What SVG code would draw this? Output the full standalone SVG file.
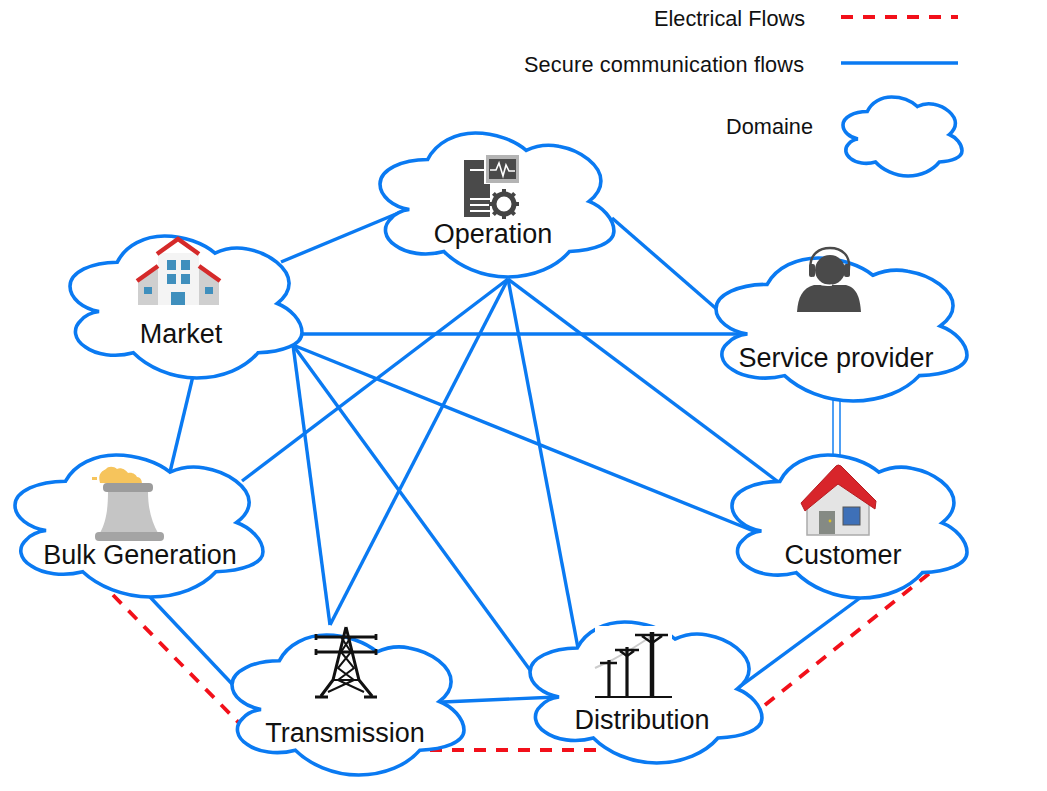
<svg xmlns="http://www.w3.org/2000/svg" xmlns:xlink="http://www.w3.org/1999/xlink" width="1047" height="791" viewBox="0 0 1047 791">
<style>
text{font-family:"Liberation Sans",Arial,sans-serif;fill:#111}
.lbl{font-size:27px;text-anchor:middle}
.leg{font-size:21.7px}
.cl{fill:#fff;stroke:#0a7af2;stroke-width:3.6;vector-effect:non-scaling-stroke;stroke-linejoin:miter}
.blue{stroke:#0a7af2;stroke-width:3.4;fill:none}
.thin{stroke:#4d9ff5;stroke-width:2;fill:none}
.red{stroke:#f2101a;stroke-width:3.8;fill:none;stroke-dasharray:12 10}
.blk{stroke:#111;fill:none}
</style>
<defs>
<path id="cloud" class="cl" d="M44 26C52 9 70 0 88 0C106 0 124 7 135 17C145 12 156 11 165 13C186 17 204 32 204 47C204 55 199 62 193 67C205 72 216 84 216 96C216 108 198 115 175 116C163 131 142 141 118 141C94 141 72 130 59 116C42 121 24 118 14 110C4 103 2 92 10 84C14 79 20 76 27 75C12 72 0 62 0 50C0 36 20 26 44 26Z"/>
</defs>
<rect width="1047" height="791" fill="#fff"/>
<g id="connectors">
<path class="blue" d="M281 262L408 209"/>
<path class="blue" d="M612 218L720 312"/>
<path class="blue" d="M300 334L745 334"/>
<path class="blue" d="M293 345L756 532"/>
<path class="blue" d="M293 345L330 625"/>
<path class="blue" d="M293 345L530 670"/>
<path class="blue" d="M508 279L242 481"/>
<path class="blue" d="M508 279L330 625"/>
<path class="blue" d="M508 279L578 648"/>
<path class="blue" d="M508 279L781 484"/>
<path class="blue" d="M193 376L170 472"/>
<path class="blue" d="M150 597L234 686"/>
<path class="blue" d="M443 702L557 697"/>
<path class="blue" d="M738 688L860 598"/>
<path class="thin" d="M833 400V457M840 400V457"/>
<path class="red" d="M113 595L240 724"/>
<path class="red" d="M430 750H606"/>
<path class="red" d="M765 705L930 573"/>
</g>
<g id="legend">
<text class="leg" x="654" y="26" textLength="151">Electrical Flows</text>
<path class="red" d="M841 17H958"/>
<text class="leg" x="524" y="72" textLength="280">Secure communication flows</text>
<path class="blue" d="M841 63H958"/>
<text class="leg" x="726" y="134" textLength="87">Domaine</text>
<use href="#cloud" transform="translate(843 97) scale(.551 .56)"/>
</g>
<g id="node-operation">
<use href="#cloud" transform="translate(380 133) scale(1.083 1.021)"/>
<rect x="464" y="160" width="26" height="57" fill="#4a4a4a"/>
<rect x="484" y="154" width="36" height="30" fill="#fff"/>
<rect x="486" y="155" width="33" height="28" fill="#b4b4b4"/>
<rect x="489" y="159" width="27" height="20" fill="#4a4a4a"/>
<path d="M490 170H496L499 163L503 176L506 165L509 171H515" stroke="#fff" stroke-width="1.6" fill="none"/>
<path d="M470 170H485M470 199H492M470 205H490M470 211H492" stroke="#fff" stroke-width="1.8"/>
<circle cx="504" cy="204" r="10" fill="#fff" stroke="#444" stroke-width="5"/>
<path d="M504 189V219M489 204H519M493.400 193.400L514.600 214.600M514.600 193.400L493.400 214.600" stroke="#444" stroke-width="4" stroke-dasharray="4 22"/>
<text class="lbl" x="493" y="243">Operation</text>
</g>
<g id="node-market">
<use href="#cloud" transform="translate(70 236) scale(1.074 1.007)"/>
<path d="M138 305V283L158 267V305ZM219 305V283L199 267V305Z" fill="#cfcfcf"/>
<rect x="158" y="253" width="41" height="52" fill="#f4f4f4"/>
<path d="M157 254L178 239L199 254" stroke="#d52a2a" stroke-width="4.5" fill="none"/>
<path d="M137 281L158 266M220 281L199 266" stroke="#d52a2a" stroke-width="4.5" fill="none"/>
<g fill="#3f8fbd">
<rect x="167" y="260" width="9" height="10"/><rect x="181" y="260" width="9" height="10"/>
<rect x="167" y="274" width="9" height="10"/><rect x="181" y="274" width="9" height="10"/>
<rect x="171" y="292" width="14" height="13"/>
<rect x="144" y="287" width="8" height="7"/><rect x="205" y="287" width="8" height="7"/>
</g>
<text class="lbl" x="181" y="343">Market</text>
</g>
<g id="node-service-provider">
<use href="#cloud" transform="translate(716 258) scale(1.162 1.014)"/>
<path d="M797 312C798 298 802 288 814 285H846C858 288 860 300 861 312Z" fill="#4a4a4a"/>
<circle cx="830" cy="270" r="15" fill="#4a4a4a"/>
<path d="M811 274C807 252 822 248 830 248C840 248 853 254 848 274" fill="none" stroke="#4a4a4a" stroke-width="2.4"/>
<rect x="809" y="264" width="6" height="13" rx="2" fill="#4a4a4a"/>
<rect x="844" y="264" width="6" height="13" rx="2" fill="#4a4a4a"/>
<path d="M812 277C816 285 824 286 832 285" fill="none" stroke="#fff" stroke-width="1.6"/>
<text class="lbl" x="836" y="367">Service provider</text>
</g>
<g id="node-customer">
<use href="#cloud" transform="translate(732 455) scale(1.088 1.014)"/>
<path d="M807 535V500L838 474L869 500V535Z" fill="#e4e4e4" stroke="#aaa" stroke-width="1.5"/>
<path d="M801 503L836 466Q838 464 841 466L876 501L875 509L838 484L805 511Z" fill="#d8252b" stroke="#b51d22"/>
<rect x="819" y="511" width="16" height="23" fill="#858a84"/>
<circle cx="830" cy="521" r="1.4" fill="#d8c02a"/>
<rect x="843" y="507" width="17" height="18" fill="#3e70b8" stroke="#555"/>
<text class="lbl" x="843" y="564">Customer</text>
</g>
<g id="node-bulk-generation">
<use href="#cloud" transform="translate(15 455) scale(1.148 1.007)"/>
<path d="M100 483C98 475 100 472 106 469C108 466 114 466 117 469C121 467 126 470 128 473C133 472 136 475 137 477C141 477 142 481 142 484Z" fill="#f6c45c"/>
<path d="M92 477h5v3h-5z" fill="#f6c45c"/>
<path d="M108 491H148C148 510 152 522 158 533H100C106 522 108 510 108 491Z" fill="#c5c5c5"/>
<rect x="103" y="483" width="50" height="9" rx="4" fill="#9c9c9c"/>
<rect x="95" y="532" width="69" height="9" rx="4" fill="#a4a4a4"/>
<text class="lbl" x="140" y="564">Bulk Generation</text>
</g>
<g id="node-transmission">
<use href="#cloud" transform="translate(232 635) scale(1.074 .993)"/>
<path class="blk" stroke-width="3" d="M346 627L333 680L321 696M346 627L359 680L372 696M315 697H328M364 697H377"/>
<path class="blk" stroke-width="2.8" d="M315 637H377M315 652H377M316 634V640M376 634V640M316 649V655M376 649V655"/>
<path class="blk" stroke-width="2" d="M341 637L351 652L338 668L354 680L328 692M351 637L341 652L354 668L338 680L364 692M333 680H359"/>
<text class="lbl" x="345" y="742">Transmission</text>
</g>
<g id="node-distribution">
<use href="#cloud" transform="translate(530 622) scale(1.074 1)"/>
<rect x="595" y="626" width="77" height="24" fill="#fff"/>
<path d="M595 668L612 660L630 650L652 636" stroke="#ccc" stroke-width="2" fill="none"/>
<path class="blk" stroke-width="2" d="M595 697H672"/>
<path class="blk" stroke-width="4.500" d="M652 632V697"/>
<path class="blk" stroke-width="3.200" d="M627 647V697"/>
<path class="blk" stroke-width="3.200" d="M609 660V697"/>
<path class="blk" stroke-width="2.4" d="M635 635H668M615 650H639M600 663H617M642 636L652 643L662 636M620 651L627 656L634 651"/>
<text class="lbl" x="642" y="729">Distribution</text>
</g>
</svg>
